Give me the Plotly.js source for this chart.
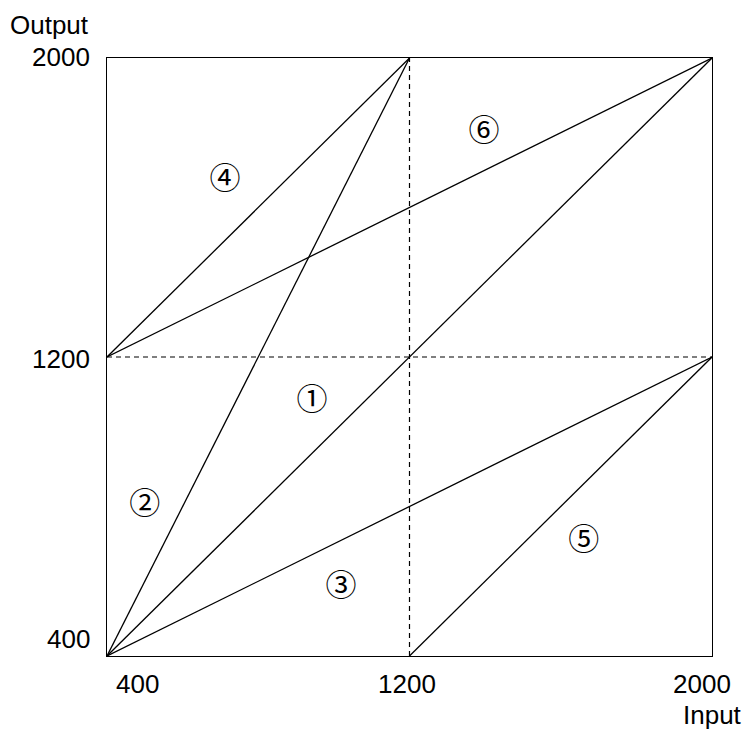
<!DOCTYPE html>
<html>
<head>
<meta charset="utf-8">
<script src="https://cdn.plot.ly/plotly-3.0.1.min.js"></script>
<style>html,body{margin:0;padding:0;background:#fff;}</style>
</head>
<body>
<div id="chart" style="width:748px;height:737px;"></div>
<script>
// ---- data ----
var xTicks = [400, 1200, 2000];
var yTicks = [400, 1200, 2000];
var xTickLabels = ["400", "1200", "2000"];
var yTickLabels = ["400", "1200", "2000"];
// solid line segments: [x0, x1], [y0, y1]
var segX = [[400, 2000], [400, 1200], [400, 2000], [400, 1200], [1200, 2000], [400, 2000]];
var segY = [[400, 2000], [400, 2000], [400, 1200], [1200, 2000], [400, 1200], [1200, 2000]];
// dashed guide lines
var guideX = [[1200, 1200], [400, 2000]];
var guideY = [[400, 2000], [1200, 1200]];
// region labels
var regionText = ["①", "②", "③", "④", "⑤", "⑥"];
var regionX = [942, 500, 1019, 712, 1661, 1397];
var regionY = [1080, 801, 582, 1671, 705, 1799];
var xTitle = "Input";
var yTitle = "Output";

// ---- drawing ----
var traces = [];
for (var i = 0; i < segX.length; i++) {
  traces.push({x: segX[i], y: segY[i], mode: 'lines', type: 'scatter',
    line: {color: '#000', width: 1.3}, hoverinfo: 'skip', showlegend: false});
}
for (var j = 0; j < guideX.length; j++) {
  traces.push({x: guideX[j], y: guideY[j], mode: 'lines', type: 'scatter',
    line: {color: '#000', width: 1.2, dash: '5px,4px'}, hoverinfo: 'skip', showlegend: false});
}
traces.push({x: regionX, y: regionY, text: regionText, mode: 'text', type: 'scatter',
  textfont: {family: 'Noto Sans CJK JP, Noto Sans CJK SC, serif', size: 31, color: '#000'},
  hoverinfo: 'skip', showlegend: false});

var tickFont = {family: 'Liberation Sans, Arial, sans-serif', size: 26, color: '#000'};
var xShift = [30, -3, -10];
var yShift = [17, -2, 1];
var ann = [];
for (var k = 0; k < xTicks.length; k++) {
  ann.push({x: xTicks[k], y: 0, xref: 'x', yref: 'paper', text: xTickLabels[k],
    showarrow: false, xanchor: 'center', yanchor: 'middle', xshift: xShift[k], yshift: -28, font: tickFont});
}
for (var m = 0; m < yTicks.length; m++) {
  ann.push({x: 0, y: yTicks[m], xref: 'paper', yref: 'y', text: yTickLabels[m],
    showarrow: false, xanchor: 'right', yanchor: 'middle', xshift: -15, yshift: yShift[m], font: tickFont});
}
ann.push({x: 0, y: 1, xref: 'paper', yref: 'paper', text: yTitle, showarrow: false,
  xanchor: 'center', yanchor: 'middle', xshift: -58, yshift: 33, font: tickFont});
ann.push({x: 1, y: 0, xref: 'paper', yref: 'paper', text: xTitle, showarrow: false,
  xanchor: 'center', yanchor: 'middle', xshift: 0, yshift: -59, font: tickFont});

var layout = {
  width: 748, height: 737,
  margin: {l: 107, r: 36, t: 58, b: 81, pad: 0},
  paper_bgcolor: '#fff', plot_bgcolor: '#fff',
  showlegend: false,
  xaxis: {range: [400, 2000], showgrid: false, zeroline: false, showticklabels: false, ticks: '',
    showline: true, mirror: true, linecolor: '#000', linewidth: 1.2, fixedrange: true},
  yaxis: {range: [400, 2000], showgrid: false, zeroline: false, showticklabels: false, ticks: '',
    showline: true, mirror: true, linecolor: '#000', linewidth: 1.2, fixedrange: true},
  annotations: ann
};
Plotly.newPlot('chart', traces, layout, {displayModeBar: false, staticPlot: true});
</script>
</body>
</html>
